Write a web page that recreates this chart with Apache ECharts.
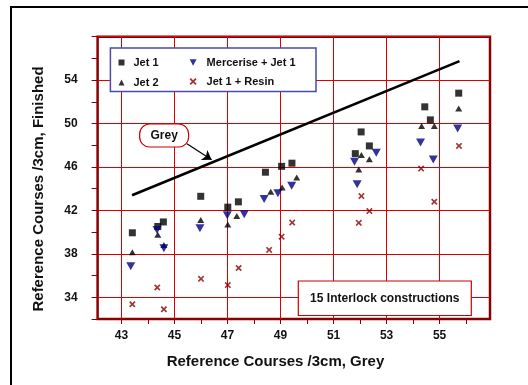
<!DOCTYPE html>
<html>
<head>
<meta charset="utf-8">
<script src="https://cdn.jsdelivr.net/npm/echarts@6/dist/echarts.min.js"></script>
<style>
  html, body { margin: 0; padding: 0; background: #fff; }
  #chart { width: 528px; height: 385px; }
</style>
</head>
<body>
<div id="chart"></div>
<script>
// Grey vs finished reference courses (/3cm) for 15 interlock constructions
const seriesNames = ['Jet 1', 'Jet 2', 'Mercerise + Jet 1', 'Jet 1 + Resin'];

const jet1 = [
  [43.41, 39.94], [44.37, 40.52], [44.58, 40.94], [45.99, 43.30], [47.01, 42.30],
  [47.41, 42.79], [48.43, 45.52], [49.04, 46.06], [49.43, 46.35], [51.82, 47.23],
  [52.04, 49.23], [52.35, 47.94], [54.44, 51.54], [54.65, 50.34], [55.72, 52.80]
];
const jet2 = [
  [43.41, 38.15], [44.37, 39.76], [44.60, 38.82], [45.99, 41.12], [47.01, 40.70],
  [47.35, 41.48], [48.63, 43.73], [49.06, 44.12], [49.61, 45.03], [51.95, 45.78],
  [52.05, 47.11], [52.35, 46.71], [54.32, 49.78], [54.80, 49.78], [55.72, 51.38]
];
const merceriseJet1 = [
  [43.35, 36.85], [44.34, 40.20], [44.60, 38.52], [45.96, 40.36], [46.99, 41.55],
  [47.63, 41.64], [48.38, 43.06], [48.90, 43.58], [49.42, 44.27], [51.79, 46.49],
  [51.89, 44.40], [52.61, 47.32], [54.28, 48.25], [54.76, 46.70], [55.68, 49.54]
];
const jet1Resin = [
  [43.41, 33.36], [44.35, 34.90], [44.60, 32.90], [46.00, 35.70], [47.01, 35.12],
  [47.42, 36.70], [48.57, 38.36], [49.04, 39.58], [49.44, 40.88], [51.95, 40.86],
  [52.05, 43.32], [52.35, 41.94], [54.30, 45.85], [54.80, 42.80], [55.73, 47.94]
];

// Grey reference line (finished = grey)
const greyLine = [[43.4, 43.4], [55.75, 55.75]];

// Axis ticks and labels
const xTicks = [43, 44, 45, 46, 47, 48, 49, 50, 51, 52, 53, 54, 55, 56];
const xLabels = [43, 45, 47, 49, 51, 53, 55];
const yLabels = [34, 38, 42, 46, 50, 54];
const xTitle = 'Reference Courses /3cm, Grey';
const yTitle = 'Reference Courses /3cm, Finished';

// Annotation for the grey line: tag position and arrow
const greyTagText = 'Grey';
const greyTagAt = [44.61, 48.9];
const greyArrowFrom = [45.47, 48.14];
const greyArrowTo = [46.40, 46.66];
const noteText = '15 Interlock constructions';

const FONT = '"Liberation Sans", Arial, sans-serif';
const GRID_RED = '#dd0000';
const FRAME_RED = '#8b0000';
const TEXT = '#111111';

const downTri = 'path://M0,0 L10,0 L5,9 Z';
const cross = 'path://M0,1.8 L1.8,0 L5,3.2 L8.2,0 L10,1.8 L6.8,5 L10,8.2 L8.2,10 L5,6.8 L1.8,10 L0,8.2 L3.2,5 Z';

const chart = echarts.init(document.getElementById('chart'), null, { renderer: 'canvas' });

const option = {
  animation: false,
  backgroundColor: '#ffffff',
  textStyle: { fontFamily: FONT },
  grid: {
    left: 97.6, right: 38, top: 36.7, bottom: 66,
    show: true, borderColor: FRAME_RED, borderWidth: 2.5, backgroundColor: '#ffffff'
  },
  xAxis: {
    type: 'value', min: 42.1, max: 56.9,
    axisLine: { show: false },
    axisTick: { show: true, inside: false, length: 5, customValues: xTicks,
      lineStyle: { color: FRAME_RED, width: 1 } },
    axisLabel: { customValues: xLabels, margin: 11, fontFamily: FONT, fontSize: 12,
      fontWeight: 'bold', color: TEXT },
    splitLine: { show: true, lineStyle: { color: [GRID_RED, 'rgba(0,0,0,0)'], width: 1 } }
  },
  yAxis: {
    type: 'value', min: 32, max: 58, interval: 2,
    axisLine: { show: false },
    axisTick: { show: true, inside: false, length: 6, lineStyle: { color: FRAME_RED, width: 1 } },
    axisLabel: {
      margin: 20, fontFamily: FONT, fontSize: 12, fontWeight: 'bold', color: TEXT,
      formatter: v => (yLabels.indexOf(v) >= 0 ? String(v) : '')
    },
    splitLine: { show: true, lineStyle: { color: ['rgba(0,0,0,0)', GRID_RED], width: 1 } }
  },
  legend: [
    {
      data: [{ name: seriesNames[0], icon: 'rect' }, { name: seriesNames[1], icon: 'triangle' }],
      orient: 'vertical', left: 118.5, top: 57, padding: 0,
      itemWidth: 6, itemHeight: 6, itemGap: 9,
      selectedMode: false, z: 10,
      textStyle: { fontFamily: FONT, fontSize: 11, fontWeight: 'bold', color: TEXT, padding: [0, 0, 0, 4] }
    },
    {
      data: [{ name: seriesNames[2], icon: downTri }, { name: seriesNames[3], icon: cross }],
      orient: 'vertical', left: 189.6, top: 57, padding: 0,
      itemWidth: 7, itemHeight: 7, itemGap: 8,
      selectedMode: false, z: 10,
      textStyle: { fontFamily: FONT, fontSize: 11, fontWeight: 'bold', color: TEXT, padding: [0, 0, 0, 5] }
    }
  ],
  series: [
    {
      name: 'grey', type: 'line', data: greyLine, symbol: 'none', silent: true, z: 3,
      lineStyle: { color: '#000000', width: 2.6 },
      markLine: {
        silent: true, animation: false,
        symbol: ['none', 'arrow'], symbolSize: 9,
        label: { show: false },
        emphasis: { disabled: true },
        lineStyle: { color: '#000000', width: 1.2, type: 'solid' },
        data: [[{ coord: greyArrowFrom }, { coord: greyArrowTo }]]
      }
    },
    { name: seriesNames[0], type: 'scatter', data: jet1, symbol: 'rect', symbolSize: 7,
      itemStyle: { color: '#000000' }, z: 4 },
    { name: seriesNames[1], type: 'scatter', data: jet2, symbol: 'triangle', symbolSize: [7, 6],
      itemStyle: { color: '#000000' }, z: 4 },
    { name: seriesNames[2], type: 'scatter', data: merceriseJet1, symbol: downTri, symbolSize: [9, 8],
      itemStyle: { color: '#000080' }, z: 4 },
    { name: seriesNames[3], type: 'scatter', data: jet1Resin, symbol: cross, symbolSize: 6.5,
      itemStyle: { color: '#8b0000' }, z: 4 }
  ]
};
chart.setOption(option);

// Titles, boxes and frame
const tag = chart.convertToPixel({ gridIndex: 0 }, greyTagAt);
chart.setOption({
  graphic: [
    { type: 'rect', z: 0, silent: true,
      shape: { x: 11, y: 7, width: 600, height: 500 },
      style: { fill: 'none', stroke: '#000000', lineWidth: 2 } },
    { type: 'text', z: 6, silent: true, x: 275.5, y: 362.3,
      style: { text: xTitle, font: 'bold 15px ' + FONT, fill: TEXT, align: 'center', verticalAlign: 'middle' } },
    { type: 'text', z: 6, silent: true, x: 38.7, y: 189, rotation: Math.PI / 2,
      style: { text: yTitle, font: 'bold 15px ' + FONT, fill: TEXT, align: 'center', verticalAlign: 'middle' } },
    { type: 'rect', z: 5, silent: true,
      shape: { x: 110.4, y: 48, width: 205.6, height: 43.6 },
      style: { fill: '#ffffff', stroke: '#4a4aa8', lineWidth: 1.5 } },
    { type: 'rect', z: 5, silent: true,
      shape: { x: tag[0] - 24.5, y: tag[1] - 11.5, width: 49, height: 23, r: 10 },
      style: { fill: '#ffffff', stroke: '#cc0000', lineWidth: 1.2 } },
    { type: 'text', z: 6, silent: true, x: tag[0], y: tag[1],
      style: { text: greyTagText, font: 'bold 12px ' + FONT, fill: TEXT, align: 'center', verticalAlign: 'middle' } },
    { type: 'rect', z: 5, silent: true,
      shape: { x: 298.3, y: 281, width: 173, height: 34.5 },
      style: { fill: '#ffffff', stroke: '#cc0000', lineWidth: 1.2 } },
    { type: 'text', z: 6, silent: true, x: 384.8, y: 298.3,
      style: { text: noteText, font: 'bold 12px ' + FONT, fill: TEXT, align: 'center', verticalAlign: 'middle' } }
  ]
});
</script>
</body>
</html>
